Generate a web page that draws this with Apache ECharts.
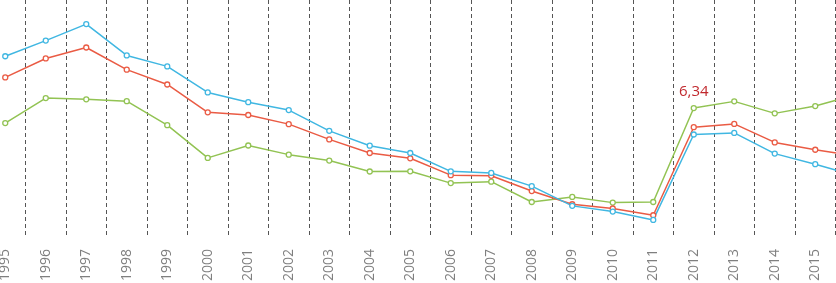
<!DOCTYPE html>
<html>
<head>
<meta charset="utf-8">
<script src="https://cdn.jsdelivr.net/npm/echarts@6/dist/echarts.min.js"></script>
<style>html,body{margin:0;padding:0;background:#fff;overflow:hidden;width:836px;height:283px;position:relative}
#c{position:absolute;left:-15.25px;top:-7px;width:891px;height:291px}</style>
</head>
<body>
<div id="c"></div>
<script>
const years = ['1995','1996','1997','1998','1999','2000','2001','2002','2003','2004','2005','2006','2007','2008','2009','2010','2011','2012','2013','2014','2015','2016'];
const blueValues = [8.89,9.66,10.47,8.93,8.39,7.11,6.63,6.24,5.22,4.49,4.13,3.23,3.15,2.50,1.53,1.25,0.84,5.04,5.12,4.10,3.58,3.01];
const redValues = [7.85,8.78,9.32,8.23,7.50,6.13,6.00,5.55,4.80,4.13,3.87,3.04,3.01,2.26,1.61,1.40,1.07,5.40,5.56,4.65,4.29,3.98];
const greenValues = [5.60,6.83,6.77,6.68,5.50,3.89,4.50,4.05,3.76,3.22,3.23,2.65,2.72,1.72,1.97,1.69,1.72,6.34,6.67,6.08,6.44,7.00];
const labelledYear = '2012';

const chart = echarts.init(document.getElementById('c'), null, {renderer: 'canvas'});
function mk(name, data, color, withLabel) {
  return {
    name: name, type: 'line', data: data.map((v, i) => {
      if (withLabel && years[i] === labelledYear) {
        return {value: v, label: {show: true, position: 'top', distance: 6,
          formatter: p => String(p.value).replace('.', ','),
          color: '#c0282d', fontSize: 15, fontFamily: 'Open Sans'}};
      }
      return v;
    }),
    symbol: 'circle', symbolSize: 5, showSymbol: true,
    itemStyle: {color: '#fff', borderColor: color, borderWidth: 1.3},
    lineStyle: {color: color, width: 1.5},
    animation: false, z: 3
  };
}
chart.setOption({
  animation: false,
  grid: {left: 0, right: 0, top: 0, bottom: 45, containLabel: false},
  xAxis: {
    type: 'category', data: years, boundaryGap: true,
    axisLine: {show: false}, axisTick: {show: false},
    axisLabel: {rotate: 90, margin: 12, color: '#7f7f7f', fontSize: 14, fontFamily: 'Open Sans', interval: 0},
    splitLine: {show: true, interval: 0, lineStyle: {color: '#555', type: [4, 3], width: 1}}
  },
  yAxis: {
    type: 'value', min: 0, max: 12, show: false, splitLine: {show: false}
  },
  series: [
    mk('green', greenValues, '#92c353', true),
    mk('red', redValues, '#ea5b44', false),
    mk('blue', blueValues, '#40b7e2', false)
  ]
});
</script>
</body>
</html>
